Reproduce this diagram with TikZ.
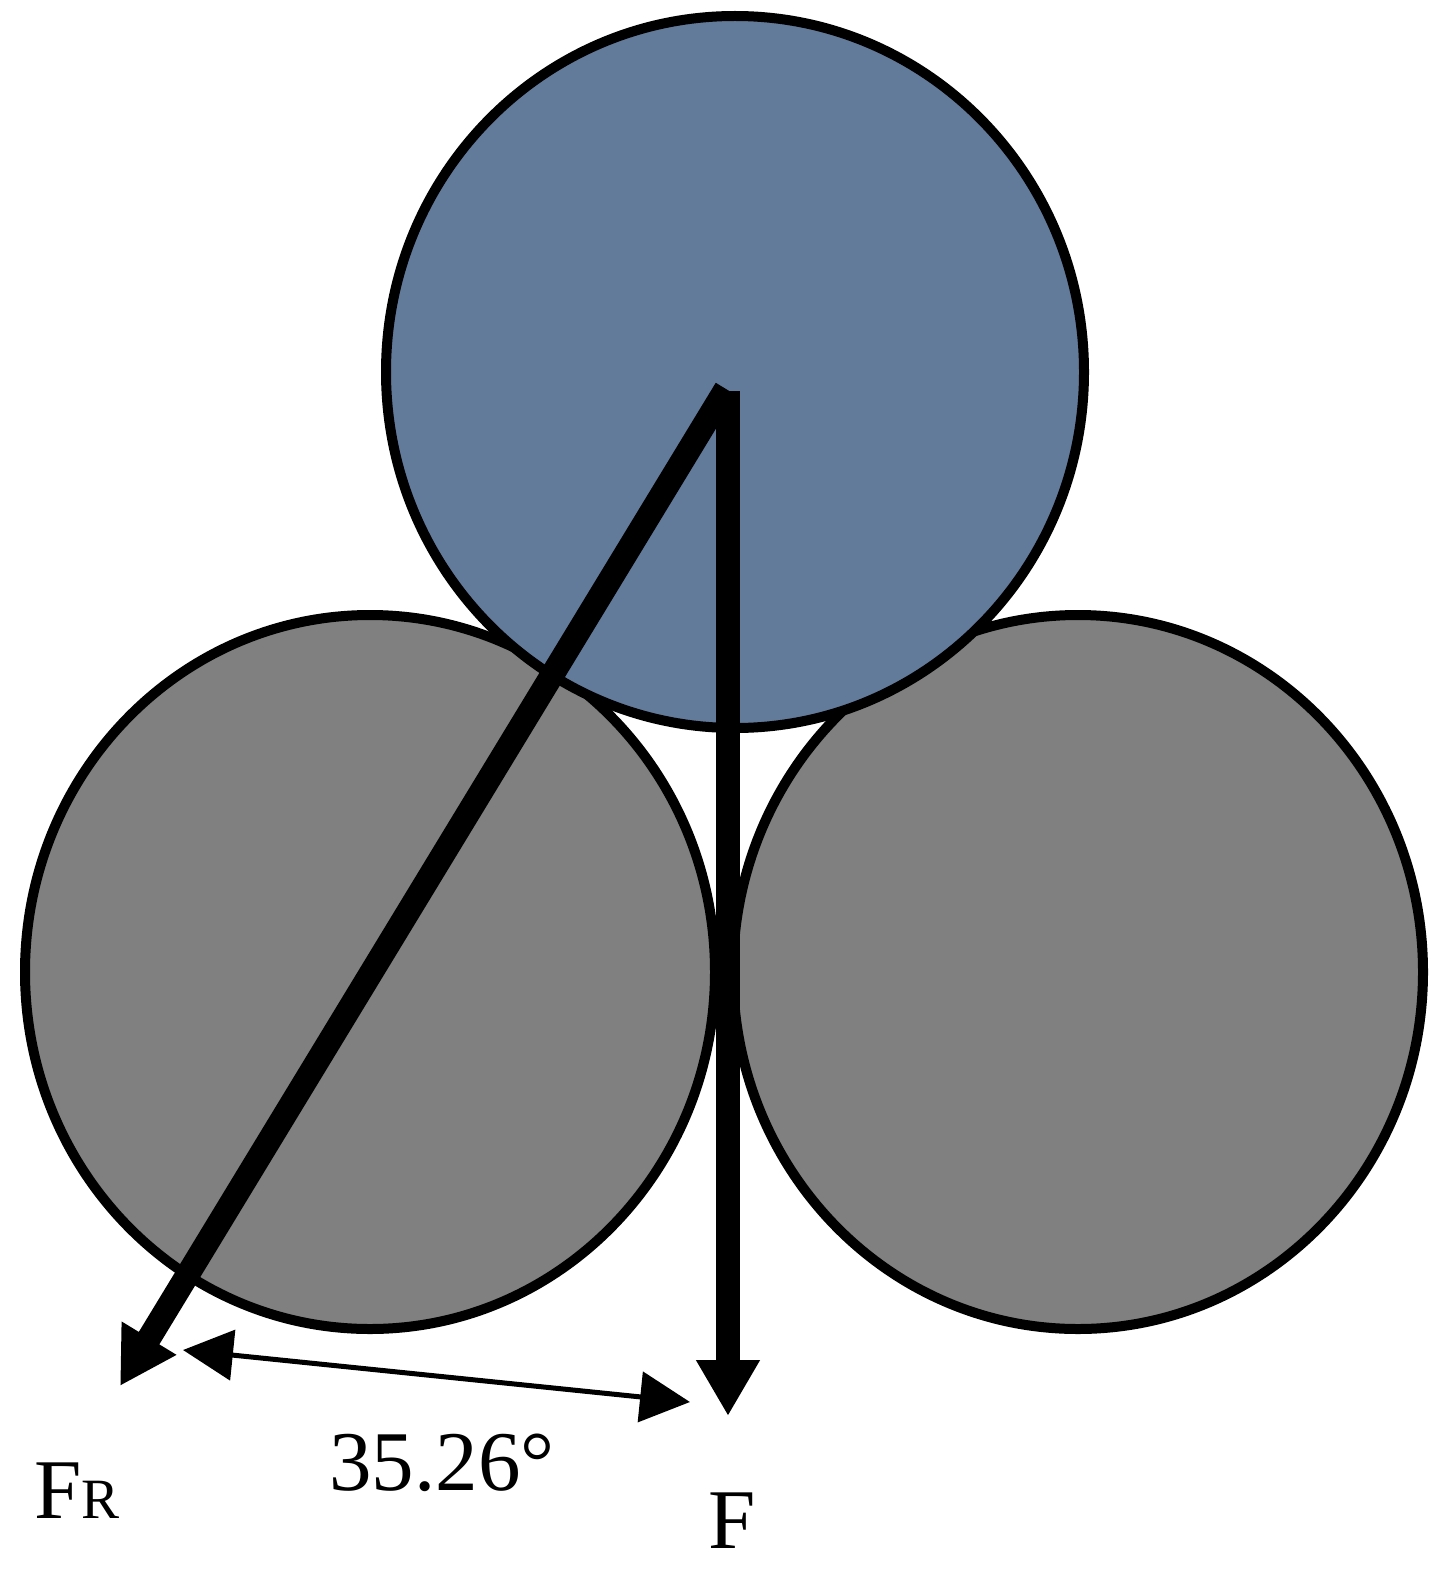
\documentclass[tikz,border=0pt]{standalone}
\usepackage{fontspec}
\setmainfont{Liberation Serif}
\usetikzlibrary{arrows.meta}
\definecolor{topblue}{RGB}{99,123,155}
\definecolor{ballgrey}{RGB}{128,128,128}
\begin{document}
\begin{tikzpicture}[x=1pt,y=-1pt,
  ball/.style={draw=black, line width=10pt},
  force/.style={line width=24pt, -{Triangle[length=56pt,width=60pt]}},
  dimline/.style={line width=5pt, {Triangle[length=50pt,width=50pt]}-{Triangle[length=50pt,width=50pt]}},
  lbl/.style={inner sep=0pt, anchor=base, font=\fontsize{85}{85}\selectfont}]
\useasboundingbox (0,0) rectangle (1447,1570);
% balls
\filldraw[ball, fill=ballgrey] (370,972) ellipse [x radius=345, y radius=357];
\filldraw[ball, fill=ballgrey] (1078,972) ellipse [x radius=345, y radius=357];
\filldraw[ball, fill=topblue] (735,372) ellipse [x radius=349, y radius=356];
% force vectors
\coordinate (O) at (726,389);
\coordinate (FRtip) at (120,1386);
\coordinate (Ftop) at (728,391);
\coordinate (Ftip) at (728,1416);
\draw[force] (O) -- (FRtip);
\draw[force] (Ftop) -- (Ftip);
% angle dimension
\coordinate (DA) at (183,1350);
\coordinate (DB) at (690,1402);
\draw[dimline] (DA) -- (DB);
% labels
\node[lbl] (lFR) at (77,1518) {F{\fontsize{57}{57}\selectfont R}};
\node[lbl] (lang) at (442,1490) {35.26°};
\node[lbl] (lF) at (732,1548) {F};
\end{tikzpicture}
\end{document}
